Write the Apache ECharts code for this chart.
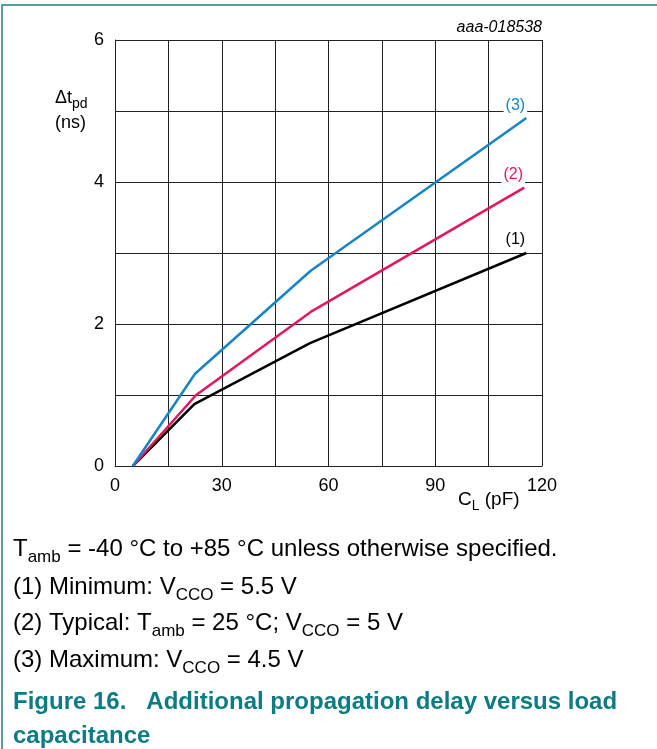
<!DOCTYPE html>
<html>
<head>
<meta charset="utf-8">
<script src="https://cdn.jsdelivr.net/npm/echarts@6/dist/echarts.min.js"></script>
<style>
html,body{margin:0;padding:0;background:#fff;}
#c{width:657px;height:749px;}
</style>
</head>
<body>
<div id="c"></div>
<script>
// Data
const seriesNames = ['(1)', '(2)', '(3)'];
const xMin = [5, 22.3, 54.8, 115.6];
const yMin = [0, 0.87, 1.73, 3.0];
const xTyp = [5, 22.8, 55, 115];
const yTyp = [0, 1.0, 2.17, 3.92];
const xMax = [5, 22.5, 55, 115.6];
const yMax = [0, 1.3, 2.75, 4.9];
const xTicks = [0, 30, 60, 90, 120];
const yTicks = [0, 2, 4, 6];

const FONT = '"Liberation Sans", Arial, sans-serif';
const teal = '#0b7c84';

function pairs(xs, ys) { return xs.map((x, i) => [x, ys[i]]); }

function mkSeries(name, xs, ys, color) {
  const data = pairs(xs, ys);
  const last = data[data.length - 1];
  return {
    name: name,
    type: 'line',
    data: data,
    symbol: 'none',
    lineStyle: { color: color, width: 2.5 },
    z: 3,
    markPoint: {
      symbol: 'circle',
      symbolSize: 0,
      silent: true,
      data: [{ coord: last }],
      label: {
        show: true,
        formatter: name,
        color: color,
        fontSize: 16,
        fontFamily: FONT,
        backgroundColor: '#fff',
        padding: [1, 2, 1, 2],
        offset: [-11, -13],
        align: 'center',
        verticalAlign: 'middle'
      }
    }
  };
}

const chart = echarts.init(document.getElementById('c'), null, { renderer: 'canvas' });

const subStyle = (size, color, pad) => ({
  fontSize: size, fontFamily: FONT, color: color,
  padding: [pad, 0, 0, 0], verticalAlign: 'top', lineHeight: size
});
const baseStyle = (size, color) => ({
  fontSize: size, fontFamily: FONT, color: color,
  verticalAlign: 'top', lineHeight: size + 4
});

const noteRich = {
  a: baseStyle(24, '#000'),
  s: subStyle(17, '#000', 12)
};

chart.setOption({
  animation: false,
  backgroundColor: '#fff',
  grid: { left: 115, right: 115, top: 40, bottom: 283, containLabel: false },
  xAxis: {
    type: 'value', min: 0, max: 120, interval: 15,
    axisLine: { show: true, lineStyle: { color: '#222', width: 1 } },
    axisTick: { show: false },
    splitLine: { show: true, lineStyle: { color: '#222', width: 1 } },
    axisLabel: {
      fontSize: 18, fontFamily: FONT, color: '#000', margin: 11,
      formatter: v => xTicks.indexOf(v) >= 0 ? String(v) : ''
    }
  },
  yAxis: {
    type: 'value', min: 0, max: 6, interval: 1,
    axisLine: { show: true, lineStyle: { color: '#222', width: 1 } },
    axisTick: { show: false },
    splitLine: { show: true, lineStyle: { color: '#222', width: 1 } },
    axisLabel: {
      fontSize: 18, fontFamily: FONT, color: '#000', margin: 11,
      formatter: v => yTicks.indexOf(v) >= 0 ? String(v) : ''
    }
  },
  series: [
    mkSeries(seriesNames[0], xMin, yMin, '#000000'),
    mkSeries(seriesNames[1], xTyp, yTyp, '#e5175a'),
    mkSeries(seriesNames[2], xMax, yMax, '#1584c8')
  ],
  graphic: [
    { type: 'polyline', shape: { points: [[2, 749], [2, 5], [657, 5]] },
      style: { stroke: '#1f8088', lineWidth: 1.5, fill: null }, silent: true },
    { type: 'text', x: 542, y: 20,
      style: { text: 'aaa-018538', font: 'italic 16px ' + FONT, fill: '#000', align: 'right' } },
    { type: 'text', x: 55, y: 89,
      style: { text: '{a|Δt}{s|pd}', rich: { a: baseStyle(18, '#000'), s: subStyle(14, '#000', 8) } } },
    { type: 'text', x: 55, y: 114,
      style: { text: '(ns)', font: '18px ' + FONT, fill: '#000' } },
    { type: 'text', x: 458, y: 490,
      style: { text: '{a|C}{s|L}{a| (pF)}', rich: { a: baseStyle(19, '#000'), s: subStyle(14, '#000', 9) } } },
    { type: 'text', x: 13, y: 537,
      style: { text: '{a|T}{s|amb}{a| = -40 °C to +85 °C unless otherwise specified.}', rich: noteRich } },
    { type: 'text', x: 13, y: 575,
      style: { text: '{a|(1) Minimum: V}{s|CCO}{a| = 5.5 V}', rich: noteRich } },
    { type: 'text', x: 13, y: 611,
      style: { text: '{a|(2) Typical: T}{s|amb}{a| = 25 °C; V}{s|CCO}{a| = 5 V}', rich: noteRich } },
    { type: 'text', x: 13, y: 648,
      style: { text: '{a|(3) Maximum: V}{s|CCO}{a| = 4.5 V}', rich: noteRich } },
    { type: 'text', x: 13, y: 690,
      style: { text: 'Figure 16.   Additional propagation delay versus load', font: 'bold 24px ' + FONT, fill: teal } },
    { type: 'text', x: 13, y: 724,
      style: { text: 'capacitance', font: 'bold 24px ' + FONT, fill: teal } }
  ]
});
</script>
</body>
</html>
